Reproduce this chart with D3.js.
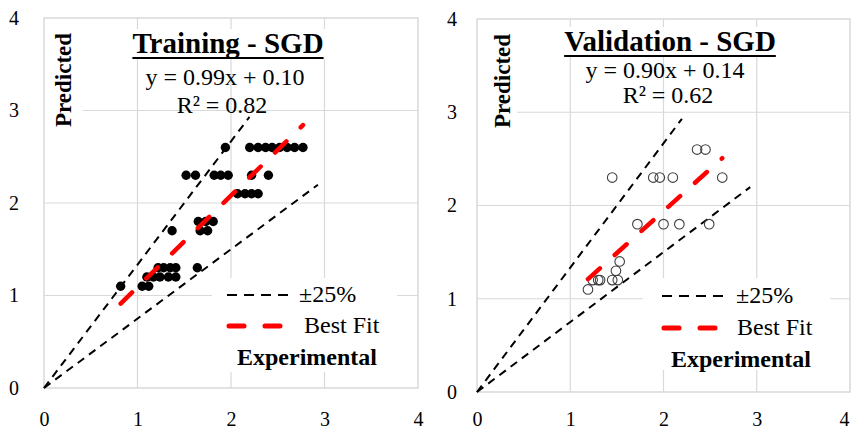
<!DOCTYPE html>
<html><head><meta charset="utf-8">
<script src="https://cdn.jsdelivr.net/npm/d3@7"></script>
<style>
body{margin:0;background:#fff}
svg{display:block}
</style>
</head><body>
<svg id="c" width="851" height="432" font-family="'Liberation Serif', 'Times New Roman', Times, serif"></svg>
<script>
// ---------- data ----------
const tickValues = [0, 1, 2, 3, 4];
const trainX = [1.94, 2.20, 2.29, 2.37, 2.44, 2.52, 2.60, 2.68, 2.77,
                1.52, 1.62, 1.82, 1.89, 1.97, 2.22, 2.40,
                2.07, 2.15, 2.22, 2.29,
                1.65, 1.73, 1.81,
                1.37, 1.67, 1.75,
                1.22, 1.28, 1.35, 1.41, 1.64,
                1.10, 1.17, 1.24, 1.33, 1.41,
                0.82, 1.05, 1.12];
const trainY = [2.6, 2.6, 2.6, 2.6, 2.6, 2.6, 2.6, 2.6, 2.6,
                2.3, 2.3, 2.3, 2.3, 2.3, 2.3, 2.3,
                2.1, 2.1, 2.1, 2.1,
                1.8, 1.8, 1.8,
                1.7, 1.7, 1.7,
                1.3, 1.3, 1.3, 1.3, 1.3,
                1.2, 1.2, 1.2, 1.2, 1.2,
                1.1, 1.1, 1.1];
const valX = [2.36, 2.45,
              1.45, 1.89, 1.96, 2.10, 2.63,
              1.72, 2.00, 2.17, 2.49,
              1.53, 1.49,
              1.24, 1.30, 1.32, 1.45, 1.51,
              1.19];
const valY = [2.6, 2.6,
              2.3, 2.3, 2.3, 2.3, 2.3,
              1.8, 1.8, 1.8, 1.8,
              1.4, 1.3,
              1.2, 1.2, 1.2, 1.2, 1.2,
              1.1];
const panelTitles = ["Training - SGD", "Validation - SGD"];
const fitSlopes = [0.99, 0.90];
const fitIntercepts = [0.10, 0.14];
const fitStartX = [0.82, 1.19];
const fitEndX = [2.77, 2.63];
const r2Values = [0.82, 0.62];
const boundFactors = [4 / 3, 0.75];
const boundReach = 2.93;
const legendLabels = ["\u00B125%", "Best Fit"];
const xAxisLabel = "Experimental";
const yAxisLabel = "Predicted";

// ---------- layout ----------
const FF = "'Liberation Serif', 'Times New Roman', Times, serif";
const panels = [
  {x0: 44, x1: 418, y0: 388, y1: 18, xs: trainX, ys: trainY, filled: true,
   titleX: 228, titleY: 53, ulY: 58, eqX: 225, eqY: 85, r2X: 222, r2Y: 113,
   predX: 63, predY: 80, predBox: [45, 28, 38, 106], yTickX: 14,
   leg: {box: [212, 278, 185, 94], lx0: 227, lx1: 290, ly: 295, tx: 299, ty: 302,
         rx1: 282, ry: 326, bx: 304, by: 333, ex: 307, ey: 365}},
  {x0: 477, x1: 850, y0: 392, y1: 19, xs: valX, ys: valY, filled: false,
   titleX: 670, titleY: 51, ulY: 56, eqX: 665, eqY: 78, r2X: 668, r2Y: 103,
   predX: 502, predY: 81, predBox: [478, 28, 39, 106], yTickX: 452,
   leg: {box: [643, 278, 187, 92], lx0: 662, lx1: 723, ly: 296, tx: 736, ty: 303,
         rx1: 715, ry: 328, bx: 737, by: 335, ex: 741, ey: 367}}
];

const svg = d3.select("#c");
const grid = "#d9d9d9";

function txt(g, x, y, size, s, bold, anchor) {
  return g.append("text").attr("x", x).attr("y", y)
    .attr("text-anchor", anchor || "start")
    .style("font-family", FF).style("font-size", size + "px")
    .style("font-weight", bold ? "bold" : "normal").attr("fill", "#000").text(s);
}

panels.forEach((p, i) => {
  const x = d3.scaleLinear().domain([0, 4]).range([p.x0, p.x1]);
  const y = d3.scaleLinear().domain([0, 4]).range([p.y0, p.y1]);
  const g = svg.append("g");

  // gridlines
  g.selectAll(".gx").data(tickValues.slice(1, 4)).join("line")
    .attr("x1", d => x(d)).attr("x2", d => x(d))
    .attr("y1", y(0)).attr("y2", y(4))
    .attr("stroke", grid).attr("stroke-width", 1.2);
  g.selectAll(".gy").data(tickValues.slice(1, 4)).join("line")
    .attr("y1", d => y(d)).attr("y2", d => y(d))
    .attr("x1", x(0)).attr("x2", x(4))
    .attr("stroke", grid).attr("stroke-width", 1.2);
  g.append("rect").attr("x", x(0)).attr("y", y(4))
    .attr("width", x(4) - x(0)).attr("height", y(0) - y(4))
    .attr("fill", "none").attr("stroke", grid).attr("stroke-width", 1.5);

  // tick labels via axes
  const ax = d3.axisBottom(x).tickValues(tickValues).tickSize(0).tickPadding(0).tickFormat(d3.format("d"));
  const axg = svg.append("g").attr("transform", "translate(0,411)").call(ax);
  axg.attr("font-family", null).attr("font-size", null);
  axg.select(".domain").remove();
  axg.selectAll("text").attr("dy", "0.75em").attr("fill", "#000")
    .style("font-family", FF).style("font-size", "20px");
  if (i === 1) axg.selectAll(".tick").filter(d => d === 4).select("text").attr("x", -6);
  const ay = d3.axisLeft(y).tickValues(tickValues).tickSize(0).tickPadding(0).tickFormat(d3.format("d"));
  const ayg = svg.append("g").attr("transform", `translate(${p.yTickX},0)`).call(ay);
  ayg.attr("font-family", null).attr("font-size", null);
  ayg.select(".domain").remove();
  ayg.selectAll("text").attr("text-anchor", "middle").attr("fill", "#000")
    .style("font-family", FF).style("font-size", "20px");

  // white label boxes
  g.append("rect").attr("x", p.predBox[0]).attr("y", p.predBox[1])
    .attr("width", p.predBox[2]).attr("height", p.predBox[3]).attr("fill", "#fff");
  txt(g, 0, 0, 23, yAxisLabel, true, "middle")
    .attr("transform", `translate(${p.predX},${p.predY}) rotate(-90)`).attr("dy", "0.35em");

  const lb = p.leg.box;
  g.append("rect").attr("x", lb[0]).attr("y", lb[1]).attr("width", lb[2]).attr("height", lb[3]).attr("fill", "#fff");

  // title
  const t = txt(g, p.titleX, p.titleY, 29, panelTitles[i], true, "middle");
  const tw = t.node().getComputedTextLength();
  g.insert("rect", "text").attr("x", p.titleX - tw / 2 - 2).attr("y", p.titleY - 24)
    .attr("width", tw + 4).attr("height", 30).attr("fill", "#fff");
  g.append("line").attr("x1", p.titleX - tw / 2).attr("x2", p.titleX + tw / 2)
    .attr("y1", p.ulY).attr("y2", p.ulY).attr("stroke", "#000").attr("stroke-width", 2);

  txt(g, p.eqX, p.eqY, 24,
    `y = ${d3.format(".2f")(fitSlopes[i])}x + ${d3.format(".2f")(fitIntercepts[i])}`, false, "middle");
  txt(g, p.r2X, p.r2Y, 24, `R\u00B2 = ${d3.format(".2f")(r2Values[i])}`, false, "middle");

  // ±25% lines
  boundFactors.forEach(f => {
    const xe = f > 1 ? boundReach / f : boundReach;
    g.append("line").attr("x1", x(0)).attr("y1", y(0))
      .attr("x2", x(xe)).attr("y2", y(xe * f))
      .attr("stroke", "#000").attr("stroke-width", 2).attr("stroke-dasharray", "8,6");
  });

  // points
  const pts = d3.zip(p.xs, p.ys);
  if (p.filled) {
    g.selectAll(".pt").data(pts).join("circle")
      .attr("cx", d => x(d[0])).attr("cy", d => y(d[1])).attr("r", 4.7).attr("fill", "#000");
  } else {
    g.selectAll(".pt").data(pts).join("circle")
      .attr("cx", d => x(d[0])).attr("cy", d => y(d[1])).attr("r", 4.8)
      .attr("fill", "none").attr("stroke", "#404040").attr("stroke-width", 1.1);
  }

  // best fit
  g.append("line")
    .attr("x1", x(fitStartX[i])).attr("y1", y(fitSlopes[i] * fitStartX[i] + fitIntercepts[i]))
    .attr("x2", x(fitEndX[i])).attr("y2", y(fitSlopes[i] * fitEndX[i] + fitIntercepts[i]))
    .attr("stroke", "#ff0000").attr("stroke-width", 4.5).attr("stroke-linecap", "round")
    .attr("stroke-dasharray", "16,20");

  // legend
  const L = p.leg;
  g.append("line").attr("x1", L.lx0).attr("x2", L.lx1).attr("y1", L.ly).attr("y2", L.ly)
    .attr("stroke", "#000").attr("stroke-width", 2).attr("stroke-dasharray", "10,7");
  txt(g, L.tx, L.ty, 24, legendLabels[0]);
  g.append("line").attr("x1", L.lx0 + 2).attr("x2", L.rx1).attr("y1", L.ry).attr("y2", L.ry)
    .attr("stroke", "#ff0000").attr("stroke-width", 5).attr("stroke-linecap", "round")
    .attr("stroke-dasharray", "15,21");
  txt(g, L.bx, L.by, 24, legendLabels[1]);
  txt(g, L.ex, L.ey, 24, xAxisLabel, true, "middle");
});
</script>
</body></html>
